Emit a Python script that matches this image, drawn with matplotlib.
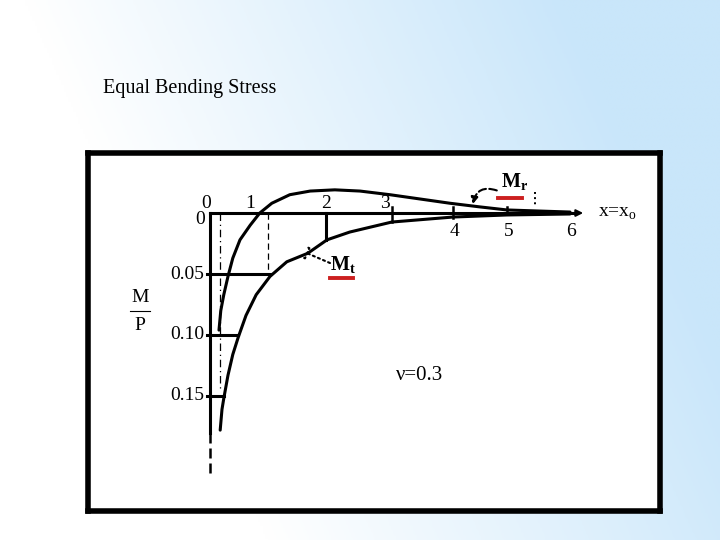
import numpy as np
import matplotlib
matplotlib.use("Agg")
import matplotlib.pyplot as plt
from matplotlib.colors import LinearSegmentedColormap

plt.rcParams['font.family'] = ['Liberation Serif', 'DejaVu Serif']
plt.rcParams['mathtext.fontset'] = 'custom'
plt.rcParams['mathtext.rm'] = 'Liberation Serif'
plt.rcParams['mathtext.bf'] = 'Liberation Serif:bold'

title = "Equal Bending Stress"

# radial moment curve (Mr), x in tick units, y = M/P (down positive)
mr_x = [0.15, 0.18, 0.23, 0.30, 0.38, 0.50, 0.67, 0.83, 1.03, 1.33, 1.67, 2.08,
        2.50, 3.00, 3.50, 4.00, 4.50, 4.95, 5.50, 6.00]
mr_y = [0.096, 0.080, 0.067, 0.052, 0.037, 0.022, 0.010, 0.0, -0.008, -0.015,
        -0.018, -0.019, -0.018, -0.015, -0.0115, -0.008, -0.005, -0.0025, -0.0016, -0.0008]

# tangential moment curve (Mt)
mt_x = [0.17, 0.20, 0.23, 0.30, 0.38, 0.47, 0.60, 0.77, 1.00, 1.28, 1.63, 1.95,
        2.33, 3.03, 4.05, 4.95, 6.00]
mt_y = [0.178, 0.161, 0.152, 0.133, 0.116, 0.102, 0.084, 0.067, 0.052, 0.040,
        0.033, 0.022, 0.0156, 0.0074, 0.0033, 0.0016, 0.0008]

xtick_pos = [0.0, 0.67, 1.93, 3.03, 4.05, 4.95, 6.0]
xtick_lab = ["0", "1", "2", "3", "4", "5", "6"]
ytick_pos = [0.0, 0.05, 0.10, 0.15]
ytick_lab = ["0", "0.05", "0.10", "0.15"]
# where the horizontal level lines meet the Mt curve
level_end = [1.0, 0.47, 0.23]
nu_text = "ν=0.3"

fig = plt.figure(figsize=(7.2, 5.4), dpi=100)

# slide background gradient
bg = fig.add_axes([0, 0, 1, 1])
xx, yy = np.meshgrid(np.linspace(0, 1, 300), np.linspace(0, 1, 220))
t = np.clip((xx - 0.15) / 0.75 + (0.35 - yy) * 0.45, 0, 1)
cmap = LinearSegmentedColormap.from_list("bg", ["#ffffff", "#c9e6fa"])
bg.imshow(t, cmap=cmap, aspect='auto', extent=[0, 1, 0, 1], vmin=0, vmax=1)
bg.axis('off')
fig.text(103 / 720, 1 - 89 / 540, title, fontsize=14.5, va='center', ha='left')

# framed chart box
ax = fig.add_axes([88 / 720, 29 / 540, 572 / 720, 358 / 540])
ax.set_facecolor('white')
for s in ax.spines.values():
    s.set_linewidth(4)
    s.set_color('black')
ax.set_xticks([])
ax.set_yticks([])
ax.set_xlim(-2.033, 7.5)
ax.set_ylim(0.2443, -0.0492)

lw = 2.2
fs = 14
ax.plot(mr_x, mr_y, color='black', lw=lw, solid_capstyle='round')
ax.plot(mt_x, mt_y, color='black', lw=lw, solid_capstyle='round')

# axes of the diagram
ax.plot([0, 6.05], [0, 0], color='black', lw=lw)
ax.annotate("", xy=(6.22, 0.0), xytext=(5.9, 0.0),
            arrowprops=dict(arrowstyle='-|>', color='black', lw=1.5,
                            mutation_scale=10, shrinkA=0, shrinkB=0))
ax.plot([0, 0], [0, 0.18], color='black', lw=lw)
ax.plot([0, 0], [0.18, 0.216], color='black', lw=1.8, ls=(0, (4, 2)))

# level lines and ticks
for yv, xe in zip(ytick_pos[1:], level_end):
    ax.plot([-0.05, xe], [yv, yv], color='black', lw=lw)
ax.plot([xtick_pos[2], xtick_pos[2]], [0, 0.022], color='black', lw=lw)
for xv, y0, y1 in zip(xtick_pos[3:6], [-0.005, -0.005, -0.005], [0.007, 0.004, 0.001]):
    ax.plot([xv, xv], [y0, y1], color='black', lw=1.8)
ax.plot([0.97, 0.97], [0, 0.05], color='black', lw=0.9, ls=(0, (5, 3)))
ax.plot([0.17, 0.17], [0, 0.145], color='black', lw=0.9, ls=(0, (6, 3, 1, 3)))

# tick labels
for i, (xv, lab) in enumerate(zip(xtick_pos, xtick_lab)):
    if i < 4:
        dx = [-0.07, 0, 0, -0.12][i]
        ax.text(xv + dx, -0.0075, lab, fontsize=fs, ha='center', va='center')
    else:
        ax.text(xv + 0.02, 0.0155, lab, fontsize=fs, ha='center', va='center')
for yv, lab in zip(ytick_pos, ytick_lab):
    ax.text(-0.09, yv + (0.0057 if yv == 0 else 0.0), lab, fontsize=fs,
            ha='right', va='center')

# M/P axis label
ax.text(-1.17, 0.069, "M", fontsize=fs, ha='center', va='center')
ax.plot([-1.33, -1.0], [0.080, 0.080], color='black', lw=0.8)
ax.text(-1.17, 0.092, "P", fontsize=fs, ha='center', va='center')

ax.text(6.47, 0.0, r"x=x$_\mathregular{o}$", fontsize=fs, ha='left', va='center')
ax.text(3.5, 0.133, nu_text, fontsize=15, ha='center', va='center')

# Mr annotation
ax.text(5.07, -0.025, r"$\mathbf{M}_\mathbf{r}$", fontsize=14.5, ha='center', va='center')
ax.plot([4.8, 5.2], [-0.0123, -0.0123], color='#cc1f1f', lw=2.8)
ax.annotate("", xy=(4.38, -0.0072), xytext=(4.78, -0.0185),
            arrowprops=dict(arrowstyle='-|>', color='black', lw=1.5, ls='--',
                            connectionstyle='arc3,rad=0.55', mutation_scale=10,
                            shrinkA=0, shrinkB=0))
ax.plot([5.42, 5.42], [-0.0172, -0.005], color='black', lw=1.4, ls=':')

# Mt annotation
ax.text(2.22, 0.043, r"$\mathbf{M}_\mathbf{t}$", fontsize=14.5, ha='center', va='center')
ax.plot([2.0, 2.38], [0.0533, 0.0533], color='#cc1f1f', lw=2.8)
ax.annotate("", xy=(1.62, 0.033), xytext=(2.0, 0.041),
            arrowprops=dict(arrowstyle='-[', color='black', lw=1.5, ls=':',
                            mutation_scale=4, shrinkA=0, shrinkB=0))

fig.savefig("out.png", dpi=100)
